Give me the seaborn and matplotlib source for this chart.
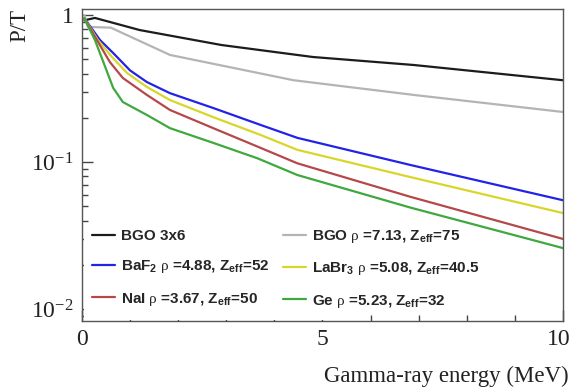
import numpy as np
import pandas as pd
import matplotlib
matplotlib.use("Agg")
import matplotlib.pyplot as plt
import matplotlib.transforms as mtransforms
from matplotlib.ticker import FixedLocator, FixedFormatter, NullFormatter
from matplotlib.patches import Rectangle
import seaborn as sns

# ---- data ----
e_bgo36 = [0.05, 0.27, 1.2, 2.9, 4.8, 6.9, 10.0]
pt_bgo36 = [0.92, 0.955, 0.79, 0.625, 0.518, 0.457, 0.36]

e_bgo = [0.05, 0.12, 0.6, 1.83, 4.4, 6.9, 10.0]
pt_bgo = [1.0, 0.83, 0.82, 0.535, 0.36, 0.286, 0.219]

e_baf2 = [0.05, 0.375, 0.65, 1.0, 1.35, 1.83, 2.73, 3.71, 4.48, 6.83, 10.0]
pt_baf2 = [0.95, 0.676, 0.551, 0.42, 0.35, 0.294, 0.233, 0.179, 0.146, 0.0955, 0.055]

e_labr3 = [0.05, 0.33, 0.625, 0.94, 1.35, 1.83, 2.73, 3.71, 4.48, 6.83, 10.0]
pt_labr3 = [0.95, 0.676, 0.518, 0.403, 0.324, 0.264, 0.202, 0.153, 0.121, 0.079, 0.045]

e_nai = [0.05, 0.31, 0.58, 0.85, 1.35, 1.83, 2.73, 3.71, 4.48, 6.83, 10.0]
pt_nai = [0.95, 0.676, 0.479, 0.373, 0.286, 0.226, 0.170, 0.125, 0.098, 0.058, 0.030]

e_ge = [0.05, 0.27, 0.65, 0.85, 1.35, 1.83, 2.73, 3.65, 4.48, 6.83, 10.0]
pt_ge = [0.95, 0.676, 0.319, 0.256, 0.209, 0.170, 0.135, 0.106, 0.0816, 0.049, 0.026]

labels = [
    "BGO 3x6",
    r"BGO $\mathrm{\rho}$ =7.13, Z$_{\mathbf{eff}}$=75",
    r"BaF$_{\mathbf{2}}$ $\mathrm{\rho}$ =4.88, Z$_{\mathbf{eff}}$=52",
    r"LaBr$_{\mathbf{3}}$ $\mathrm{\rho}$ =5.08, Z$_{\mathbf{eff}}$=40.5",
    r"NaI $\mathrm{\rho}$ =3.67, Z$_{\mathbf{eff}}$=50",
    r"Ge $\mathrm{\rho}$ =5.23, Z$_{\mathbf{eff}}$=32",
]
colors = ["#1c1c1c", "#b4b4b4", "#2323e8", "#d9d62a", "#b5484a", "#3fa83f"]

x_ticks = [0, 5, 10]
x_ticklabels = ["0", "5", "10"]
y_ticks = [0.01, 0.1, 1]
y_ticklabels = [r"$\mathrm{10^{-2}}$", r"$\mathrm{10^{-1}}$", "1"]

series = [(e_bgo36, pt_bgo36), (e_bgo, pt_bgo), (e_baf2, pt_baf2),
          (e_labr3, pt_labr3), (e_nai, pt_nai), (e_ge, pt_ge)]

sns.set_style("white")
plt.rcParams["font.family"] = ["Liberation Serif", "DejaVu Serif"]
plt.rcParams["mathtext.fontset"] = "custom"
plt.rcParams["mathtext.rm"] = "Liberation Serif"
plt.rcParams["mathtext.it"] = "Liberation Serif:italic"
plt.rcParams["mathtext.bf"] = "Liberation Sans:bold"

fig = plt.figure(figsize=(5.73, 3.87), dpi=100)
ax = fig.add_axes([0.143, 0.1705, 0.8395, 0.8065])

lines = []
for (xs, ys), lab, col in zip(series, labels, colors):
    df = pd.DataFrame({"E": xs, "PT": ys})
    sns.lineplot(data=df, x="E", y="PT", ax=ax, color=col, lw=1.6,
                 sort=False, estimator=None, label=lab, legend=False)
    lines.append(ax.get_lines()[-1])

ax.set_yscale("log")
ax.set_xlim(0, 10)
ax.set_ylim(0.0083, 1.1)

ax.xaxis.set_major_locator(FixedLocator(x_ticks))
ax.xaxis.set_major_formatter(FixedFormatter(x_ticklabels))
ax.xaxis.set_minor_locator(FixedLocator(np.arange(0, 11, 1)))
ax.yaxis.set_major_locator(FixedLocator(y_ticks))
ax.yaxis.set_major_formatter(FixedFormatter(y_ticklabels))
minors = [m * 10.0 ** d for d in (-3, -2, -1) for m in range(2, 10)]
ax.yaxis.set_minor_locator(FixedLocator(minors))
ax.yaxis.set_minor_formatter(NullFormatter())

ax.tick_params(axis="both", which="both", direction="in", colors="#444444",
               labelcolor="#222222", bottom=True, left=True, top=False, right=False)
ax.tick_params(axis="both", which="major", length=8, width=1, labelsize=17, pad=6)
ax.tick_params(axis="both", which="minor", length=4.5, width=1)
for s in ax.spines.values():
    s.set_color("#555555")
    s.set_linewidth(1.0)

# keep the last x tick label inside the canvas
fig.canvas.draw()
last = ax.get_xticklabels()[-1]
last.set_transform(last.get_transform() +
                   mtransforms.ScaledTranslation(-4 / 100, 0, fig.dpi_scale_trans))

ax.set_xlabel("Gamma-ray energy (MeV)", fontsize=16.5, color="#222222")
ax.xaxis.set_label_coords(1.012, -0.145)
ax.xaxis.label.set_horizontalalignment("right")
ax.set_ylabel("P/T", fontsize=16.5, color="#222222")
ax.yaxis.set_label_coords(-0.13, 1.0)
ax.yaxis.label.set_verticalalignment("center")
ax.yaxis.label.set_horizontalalignment("right")

# white legend pad (covers the bottom ticks like the original legend box)
ax.add_patch(Rectangle((0.004, 0.004), 0.574, 0.31, transform=ax.transAxes,
                       facecolor="white", edgecolor="none", zorder=4))

order = [0, 2, 4, 1, 3, 5]
leg = ax.legend([lines[i] for i in order], [labels[i] for i in order], ncol=2,
                loc="upper left", bbox_to_anchor=(0.011, 0.312),
                frameon=False,
                prop={"family": "Liberation Sans", "weight": "bold", "size": 11},
                handlelength=1.5, handletextpad=0.4, columnspacing=0.9,
                labelspacing=1.0, borderaxespad=0, borderpad=0.3)
leg.set_zorder(5)

fig.savefig("out.png", dpi=100)
